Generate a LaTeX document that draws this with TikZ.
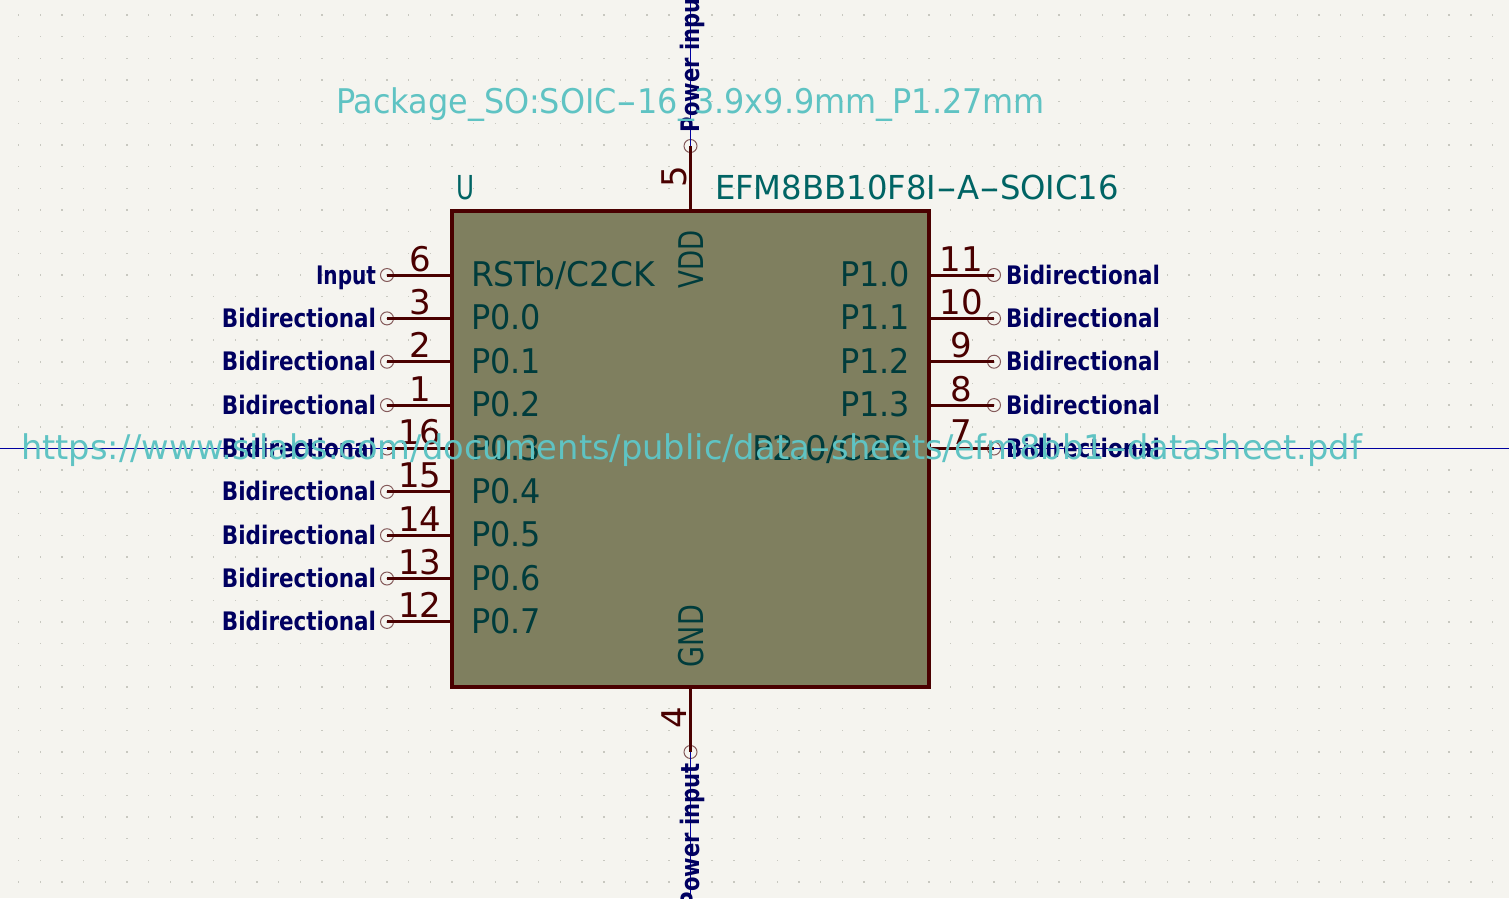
\documentclass[tikz,border=0pt]{standalone}
\usepackage{fontspec}
\setmainfont{DejaVu Sans}
\newfontfamily\boldf{DejaVu Sans Bold}
\definecolor{bgc}{HTML}{F5F4EF}
\definecolor{griddot}{HTML}{C8C8C0}
\definecolor{bodyf}{HTML}{7F7F5F}
\definecolor{linec}{HTML}{4A0000}
\definecolor{pinname}{HTML}{003C3C}
\definecolor{refc}{HTML}{006464}
\definecolor{cyanc}{HTML}{5FC3C3}
\definecolor{typec}{HTML}{000060}
\definecolor{axisc}{HTML}{0000A0}
\definecolor{circc}{HTML}{845A5A}
\newcommand{\fitw}[2]{\resizebox{#1pt}{\height}{#2}}
\newcommand{\lh}{\scalebox{1.8}[1]{-}}
\tikzset{
  txt/.style={inner sep=0pt,outer sep=0pt},
  bodybox/.style={draw=linec,fill=bodyf,line width=4pt,inner sep=0pt,minimum width=477pt,minimum height=476pt},
  pinline/.style={draw=linec,line width=3pt},
  axisline/.style={draw=axisc,line width=1pt},
  pinend/.style={circle,draw=circc,line width=1pt,minimum size=13pt,inner sep=0pt},
  pinnum/.style={txt,text=linec,font=\fontsize{34}{34}\selectfont},
  pinlabel/.style={txt,text=pinname,font=\fontsize{34}{34}\selectfont},
  typelabel/.style={txt,text=typec,font=\boldf\fontsize{25.5}{26}\selectfont},
  reflabel/.style={txt,text=refc,font=\fontsize{33}{33}\selectfont},
  hidden/.style={txt,text=cyanc,font=\fontsize{34}{34}\selectfont}
}
\begin{document}
\begin{tikzpicture}[x=1pt,y=-1pt]
\useasboundingbox (0,0) rectangle (1509,898);
\clip (0,0) rectangle (1509,898);
\fill[bgc] (0,0) rectangle (1509,898);
% grid dots
\foreach \i in {-32,...,38}{
  \foreach \j in {-21,...,21}{
    \fill[griddot] ({690.5+\i*21.675-0.7},{448.5+\j*21.675-0.7}) rectangle ++(1.4,1.4);
  }
}
\coordinate (edgeL) at (0,448.5);
\coordinate (edgeR) at (1509,448.5);
\coordinate (edgeT) at (690.5,0);
\coordinate (edgeB) at (690.5,898);
% pin ends
\foreach \y/\nm in {275/a,318.4/b,361.7/c,405.1/d,448.5/e,491.8/f,535.2/g,578.5/h,621.9/i}{
  \node[pinend] (L\nm) at (387,\y) {};
}
\foreach \y/\nm in {275/a,318.4/b,361.7/c,405.1/d,448.5/e}{
  \node[pinend] (R\nm) at (994,\y) {};
}
\node[pinend] (T) at (690.5,146) {};
\node[pinend] (B) at (690.5,752) {};
% axes
\draw[axisline] (edgeL) -- (Le.center);
\draw[axisline] (Re.center) -- (edgeR);
\draw[axisline] (edgeT) -- (T.center);
\draw[axisline] (B.center) -- (edgeB);
% body
\node[bodybox] (body) at (690.5,449) {};
% pin lines
\foreach \nm in {a,b,c,d,e,f,g,h,i}{
  \draw[pinline] (L\nm.center) -- (L\nm.center -| body.west);
}
\foreach \nm in {a,b,c,d,e}{
  \draw[pinline] (R\nm.center) -- (R\nm.center -| body.east);
}
\draw[pinline] (T.center) -- (body.north);
\draw[pinline] (B.center) -- (body.south);
% left pin labels
\foreach \y/\nm/\num/\lab/\w in {
  275/a/6/RSTb\slash C2CK/184,
  318.4/b/3/P0.0/70,
  361.7/c/2/P0.1/70,
  405.1/d/1/P0.2/70,
  448.5/e/16/P0.3/70,
  491.8/f/15/P0.4/70,
  535.2/g/14/P0.5/70,
  578.5/h/13/P0.6/70,
  621.9/i/12/P0.7/70}{
  \node[pinlabel,anchor=base west] (nameL\nm) at (471,\y+11.5) {\fitw{\w}{\lab}};
  \node[pinnum,anchor=base] (numL\nm) at (420,\y-4) {\num};
}
% left type labels
\node[typelabel,anchor=base east] (typeLa) at (376,284) {\fitw{60}{Input}};
\foreach \y/\nm in {318.4/b,361.7/c,405.1/d,448.5/e,491.8/f,535.2/g,578.5/h,621.9/i}{
  \node[typelabel,anchor=base east] (typeL\nm) at (376,\y+9) {\fitw{154}{Bidirectional}};
}
% right pin labels
\foreach \y/\nm/\num/\lab/\w in {
  275/a/11/P1.0/70,
  318.4/b/10/P1.1/70,
  361.7/c/9/P1.2/70,
  405.1/d/8/P1.3/70,
  448.5/e/7/P2.0\slash C2D/158}{
  \node[pinlabel,anchor=base east] (nameR\nm) at (910,\y+11.5) {\fitw{\w}{\lab}};
  \node[pinnum,anchor=base] (numR\nm) at (961,\y-4) {\num};
  \node[typelabel,anchor=base west] (typeR\nm) at (1006,\y+9) {\fitw{154}{Bidirectional}};
}
% top and bottom pins
\node[pinnum,anchor=base,rotate=90] (numT) at (686,176.5) {5};
\node[pinnum,anchor=base,rotate=90] (numB) at (686,718) {4};
\node[pinlabel,anchor=base west,rotate=90] (nameT) at (703,288) {\fitw{58}{VDD}};
\node[pinlabel,anchor=base west,rotate=90] (nameB) at (703,667) {\fitw{62}{GND}};
\node[typelabel,anchor=base west,rotate=90] (typeT) at (699,132) {\fitw{144}{Power input}};
\node[typelabel,anchor=base east,rotate=90] (typeB) at (699,763) {\fitw{144}{Power input}};
% fields
\node[reflabel,anchor=base west] (ref) at (456,199) {\fitw{18}{U}};
\node[reflabel,anchor=base west] (val) at (715,199) {\fitw{404}{EFM8BB10F8I\lh A\lh SOIC16}};
\node[hidden,anchor=base west] (fp) at (336,113) {\fitw{709}{Package\_SO:SOIC\lh 16\_3.9x9.9mm\_P1.27mm}};
\node[hidden,anchor=base west] (ds) at (21,459) {\fitw{1341}{https://www.silabs.com/documents/public/data\lh sheets/efm8bb1\lh datasheet.pdf}};
\end{tikzpicture}
\end{document}
